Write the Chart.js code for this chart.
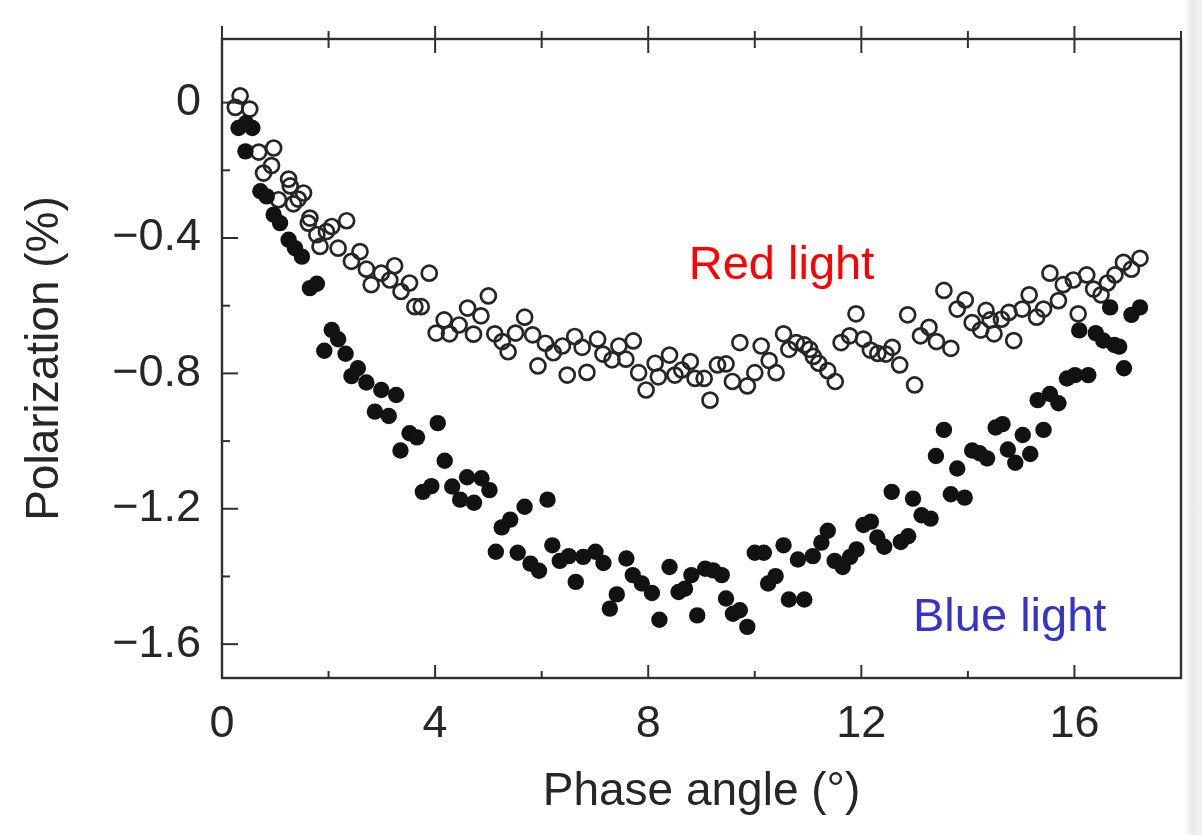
<!DOCTYPE html>
<html>
<head>
<meta charset="utf-8">
<script src="https://cdn.jsdelivr.net/npm/chart.js@4.4.1/dist/chart.umd.min.js"></script>
<style>
  html, body { margin: 0; padding: 0; }
  body {
    width: 1202px; height: 835px; overflow: hidden;
    background: linear-gradient(to right, #ffffff 0px, #ffffff 1184px, #e9e9e9 1193px, #f3f3f3 1202px);
  }
  #c { display: block; }
</style>
</head>
<body>
<canvas id="c" width="1202" height="835"></canvas>
<script>
// Phase angle (deg) and polarization (%) for the two filters
const redPhase = [
  0.25, 0.34, 0.52, 0.69, 0.78, 0.93, 0.97, 1.06, 1.25, 1.28, 1.34, 1.43, 1.53, 1.62, 1.65,
  1.78, 1.84, 1.96, 2.06, 2.18, 2.34, 2.43, 2.59, 2.71, 2.80, 2.99, 3.15, 3.24, 3.36, 3.52,
  3.62, 3.74, 3.89, 4.02, 4.17, 4.27, 4.45, 4.61, 4.72, 4.86, 5.00, 5.12, 5.26, 5.37, 5.51,
  5.68, 5.83, 5.93, 6.07, 6.22, 6.39, 6.48, 6.62, 6.76, 6.85, 7.05, 7.15, 7.32, 7.45, 7.58,
  7.72, 7.82, 7.96, 8.13, 8.19, 8.40, 8.50, 8.63, 8.79, 8.88, 9.05, 9.16, 9.30, 9.46, 9.58,
  9.72, 9.86, 10.00, 10.12, 10.27, 10.40, 10.54, 10.64, 10.78, 10.93, 11.03, 11.10, 11.20, 11.37, 11.51,
  11.62, 11.78, 11.90, 12.04, 12.17, 12.31, 12.46, 12.58, 12.72, 12.87, 13.00, 13.11, 13.27, 13.41, 13.55,
  13.68, 13.80, 13.95, 14.08, 14.24, 14.34, 14.42, 14.49, 14.63, 14.77, 14.86, 15.02, 15.15, 15.29, 15.42,
  15.54, 15.70, 15.79, 15.98, 16.07, 16.23, 16.36, 16.50, 16.62, 16.76, 16.92, 17.07, 17.23
];
const redPolarization = [
  -0.014, 0.020, -0.019, -0.146, -0.208, -0.186, -0.134, -0.287, -0.226, -0.246, -0.299, -0.285, -0.267, -0.356, -0.341,
  -0.390, -0.425, -0.381, -0.366, -0.430, -0.349, -0.469, -0.440, -0.492, -0.538, -0.504, -0.524, -0.482, -0.558, -0.533,
  -0.603, -0.603, -0.504, -0.681, -0.642, -0.683, -0.657, -0.607, -0.684, -0.630, -0.571, -0.683, -0.706, -0.736, -0.681,
  -0.634, -0.686, -0.778, -0.711, -0.739, -0.719, -0.805, -0.691, -0.723, -0.797, -0.699, -0.743, -0.760, -0.719, -0.758,
  -0.704, -0.798, -0.849, -0.770, -0.810, -0.746, -0.805, -0.790, -0.765, -0.815, -0.815, -0.879, -0.775, -0.772, -0.824,
  -0.709, -0.837, -0.798, -0.719, -0.762, -0.798, -0.683, -0.729, -0.709, -0.716, -0.729, -0.750, -0.770, -0.792, -0.824,
  -0.709, -0.689, -0.624, -0.699, -0.731, -0.741, -0.743, -0.723, -0.775, -0.627, -0.834, -0.689, -0.664, -0.706, -0.555,
  -0.726, -0.610, -0.583, -0.650, -0.672, -0.614, -0.642, -0.683, -0.640, -0.620, -0.703, -0.610, -0.568, -0.634, -0.610,
  -0.504, -0.585, -0.538, -0.524, -0.624, -0.509, -0.551, -0.568, -0.533, -0.509, -0.472, -0.492, -0.460
];
const bluePhase = [
  0.31, 0.44, 0.45, 0.57, 0.72, 0.84, 0.97, 1.09, 1.25, 1.37, 1.50, 1.65, 1.78, 1.92, 2.06,
  2.18, 2.32, 2.43, 2.55, 2.71, 2.87, 2.99, 3.13, 3.27, 3.35, 3.52, 3.66, 3.77, 3.93, 4.05,
  4.18, 4.32, 4.47, 4.60, 4.73, 4.87, 5.02, 5.14, 5.25, 5.41, 5.55, 5.68, 5.79, 5.95, 6.11,
  6.20, 6.34, 6.51, 6.64, 6.78, 7.01, 7.16, 7.28, 7.41, 7.59, 7.71, 7.88, 8.07, 8.21, 8.40,
  8.57, 8.69, 8.81, 8.92, 9.07, 9.22, 9.38, 9.46, 9.59, 9.72, 9.86, 10.00, 10.17, 10.25, 10.39,
  10.54, 10.64, 10.81, 10.93, 11.09, 11.25, 11.37, 11.50, 11.65, 11.79, 11.91, 12.04, 12.18, 12.30, 12.43,
  12.57, 12.74, 12.88, 12.97, 13.13, 13.30, 13.40, 13.55, 13.68, 13.80, 13.94, 14.08, 14.22, 14.36, 14.52,
  14.65, 14.75, 14.89, 15.03, 15.17, 15.31, 15.42, 15.54, 15.70, 15.86, 16.01, 16.09, 16.26, 16.40, 16.54,
  16.67, 16.75, 16.84, 16.93, 17.07, 17.23
];
const bluePolarization = [
  -0.075, -0.144, -0.060, -0.075, -0.262, -0.277, -0.331, -0.356, -0.405, -0.430, -0.455, -0.548, -0.535, -0.733, -0.672,
  -0.699, -0.742, -0.808, -0.785, -0.827, -0.913, -0.849, -0.926, -0.864, -1.028, -0.977, -0.989, -1.150, -1.133, -0.947,
  -1.058, -1.134, -1.173, -1.107, -1.182, -1.110, -1.145, -1.327, -1.255, -1.232, -1.330, -1.194, -1.362, -1.383, -1.173,
  -1.308, -1.354, -1.340, -1.416, -1.342, -1.327, -1.360, -1.495, -1.453, -1.347, -1.396, -1.421, -1.449, -1.528, -1.372,
  -1.446, -1.436, -1.396, -1.515, -1.377, -1.382, -1.396, -1.465, -1.510, -1.500, -1.549, -1.330, -1.330, -1.421, -1.399,
  -1.308, -1.468, -1.350, -1.468, -1.340, -1.300, -1.265, -1.354, -1.372, -1.342, -1.320, -1.248, -1.238, -1.285, -1.312,
  -1.150, -1.298, -1.281, -1.170, -1.219, -1.229, -1.044, -0.967, -1.157, -1.081, -1.167, -1.028, -1.036, -1.051, -0.960,
  -0.950, -1.025, -1.064, -0.982, -1.038, -0.879, -0.967, -0.861, -0.888, -0.815, -0.805, -0.673, -0.805, -0.681, -0.703,
  -0.605, -0.716, -0.721, -0.785, -0.627, -0.605
];

// Axis ticks and their labels
const xMajorTicks = [0, 4, 8, 12, 16];
const xTickLabels = ['0', '4', '8', '12', '16'];
const xMinorTicks = [2, 6, 10, 14, 18];
const yMajorTicks = [0, -0.4, -0.8, -1.2, -1.6];
const yTickLabels = ['0', '\u22120.4', '\u22120.8', '\u22121.2', '\u22121.6'];
const yMinorTicks = [-0.2, -0.6, -1.0, -1.4];

const seriesNames = ['Red light', 'Blue light'];

const zip = (xs, ys) => xs.map((x, i) => ({ x: x, y: ys[i] }));
const labelFor = (majors, labels) => (v) => {
  const i = majors.findIndex(t => Math.abs(t - v) < 1e-9);
  return i >= 0 ? labels[i] : '';
};
const sortedTicks = (a, b) => a.concat(b).sort((p, q) => p - q).map(v => ({ value: v }));

const INK = '#262626';
const FONT = '"Liberation Sans", Arial, Helvetica, sans-serif';

// Boxed frame with inward tick marks on the bottom and left, crossing ticks on top
const framePlugin = {
  id: 'frame',
  beforeDatasetsDraw(chart) {
    const { ctx, chartArea: a, scales: { x, y } } = chart;
    ctx.save();
    ctx.strokeStyle = '#303030';
    ctx.lineWidth = 2.4;
    ctx.strokeRect(a.left, a.top, a.right - a.left, a.bottom - a.top);
    ctx.lineWidth = 2;
    const line = (x1, y1, x2, y2) => { ctx.beginPath(); ctx.moveTo(x1, y1); ctx.lineTo(x2, y2); ctx.stroke(); };
    xMajorTicks.forEach(v => {
      const px = x.getPixelForValue(v);
      line(px, a.bottom, px, a.bottom - 13);
      line(px, a.top - 13, px, a.top + 14);
    });
    xMinorTicks.forEach(v => {
      const px = x.getPixelForValue(v);
      line(px, a.bottom, px, a.bottom - 7);
      line(px, a.top - 8, px, a.top + 9);
    });
    yMajorTicks.forEach(v => {
      const py = y.getPixelForValue(v);
      line(a.left, py, a.left + 16, py);
    });
    yMinorTicks.forEach(v => {
      const py = y.getPixelForValue(v);
      line(a.left, py, a.left + 8, py);
    });
    ctx.restore();
  }
};

// Coloured captions naming each filter
const captionPlugin = {
  id: 'captions',
  afterDatasetsDraw(chart) {
    const { ctx, scales: { x, y } } = chart;
    ctx.save();
    ctx.font = '47px ' + FONT;
    ctx.textAlign = 'left';
    ctx.textBaseline = 'alphabetic';
    ctx.fillStyle = '#ff0000';
    ctx.fillText(seriesNames[0], x.getPixelForValue(8.76), y.getPixelForValue(-0.522));
    ctx.fillStyle = '#3434cc';
    ctx.fillText(seriesNames[1], x.getPixelForValue(12.97), y.getPixelForValue(-1.56));
    ctx.restore();
  }
};

new Chart(document.getElementById('c'), {
  type: 'scatter',
  data: {
    datasets: [
      {
        label: seriesNames[1],
        data: zip(bluePhase, bluePolarization),
        pointStyle: 'circle',
        pointRadius: 8.2,
        pointBorderWidth: 0,
        pointBackgroundColor: '#121212',
        pointBorderColor: '#121212'
      },
      {
        label: seriesNames[0],
        data: zip(redPhase, redPolarization),
        pointStyle: 'circle',
        pointRadius: 7.5,
        pointBorderWidth: 2.7,
        pointBackgroundColor: 'rgba(255,255,255,0)',
        pointBorderColor: '#262626'
      }
    ]
  },
  options: {
    responsive: false,
    animation: false,
    devicePixelRatio: 1,
    events: [],
    layout: { padding: { top: 39, right: 21, left: 0, bottom: 0 } },
    plugins: { legend: { display: false }, tooltip: { enabled: false } },
    scales: {
      x: {
        type: 'linear',
        position: 'bottom',
        min: 0,
        max: 18,
        afterBuildTicks: s => { s.ticks = sortedTicks(xMajorTicks, xMinorTicks); },
        afterFit: s => { s.height = 157; s.paddingLeft = 0; s.paddingRight = 0; },
        grid: { display: false, drawTicks: false },
        border: { display: false },
        ticks: {
          callback: labelFor(xMajorTicks, xTickLabels),
          autoSkip: false, maxRotation: 0, padding: 20,
          color: INK, font: { family: FONT, size: 45 }
        },
        title: {
          display: true, text: 'Phase angle (°)', color: INK,
          font: { family: FONT, size: 46 }, padding: { top: 0, bottom: 15 }
        }
      },
      y: {
        type: 'linear',
        position: 'left',
        min: -1.7,
        max: 0.188,
        afterBuildTicks: s => { s.ticks = sortedTicks(yMajorTicks, yMinorTicks); },
        afterFit: s => { s.width = 222; s.paddingTop = 0; s.paddingBottom = 0; },
        grid: { display: false, drawTicks: false },
        border: { display: false },
        ticks: {
          callback: labelFor(yMajorTicks, yTickLabels),
          autoSkip: false, padding: 21,
          color: INK, font: { family: FONT, size: 45 }
        },
        title: {
          display: true, text: 'Polarization (%)', color: INK,
          font: { family: FONT, size: 46 }, padding: { top: 18, bottom: 0 }
        }
      }
    }
  },
  plugins: [framePlugin, captionPlugin]
});
</script>
</body>
</html>
